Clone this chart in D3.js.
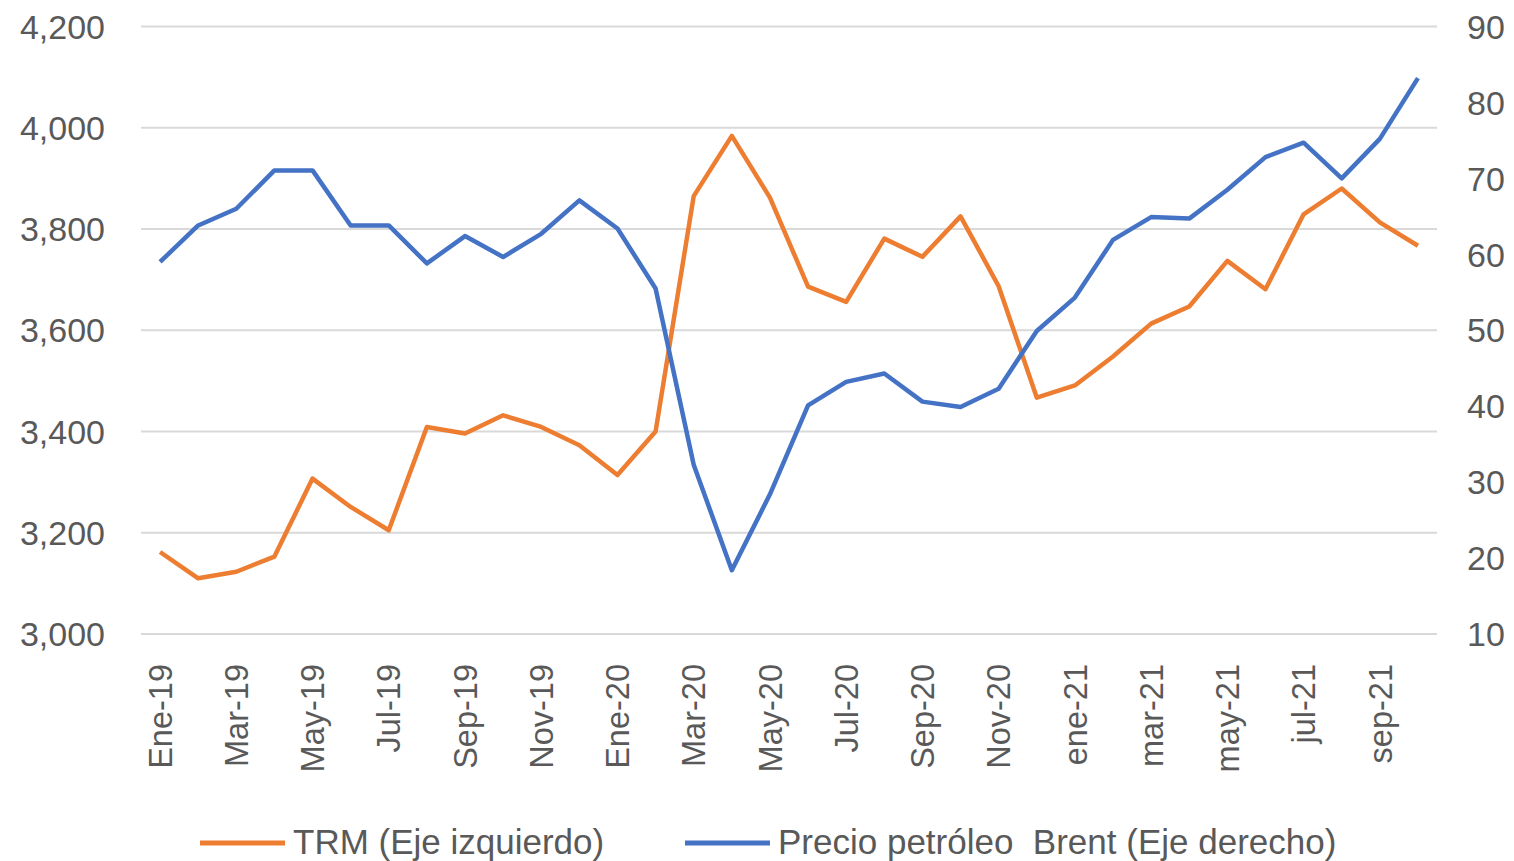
<!DOCTYPE html>
<html>
<head>
<meta charset="utf-8">
<script src="https://cdn.jsdelivr.net/npm/d3@7"></script>
<style>
  html, body { margin: 0; padding: 0; background: #fff; }
  svg { display: block; }
  text { font-family: "Liberation Sans", Arial, sans-serif; fill: #595959; }
</style>
</head>
<body>
<svg id="chart" width="1514" height="861"></svg>
<script>
const months = ["Ene-19","Feb-19","Mar-19","Abr-19","May-19","Jun-19","Jul-19","Ago-19","Sep-19","Oct-19","Nov-19","Dic-19",
  "Ene-20","Feb-20","Mar-20","Abr-20","May-20","Jun-20","Jul-20","Ago-20","Sep-20","Oct-20","Nov-20","Dic-20",
  "ene-21","feb-21","mar-21","abr-21","may-21","jun-21","jul-21","ago-21","sep-21","oct-21"];
const shownLabels = ["Ene-19","Mar-19","May-19","Jul-19","Sep-19","Nov-19","Ene-20","Mar-20","May-20","Jul-20","Sep-20","Nov-20","ene-21","mar-21","may-21","jul-21","sep-21"];
const trm = [3162,3110,3123,3153,3307,3251,3205,3409,3396,3432,3409,3373,
  3314,3400,3865,3984,3862,3686,3656,3781,3745,3825,3687,3467,
  3491,3548,3613,3647,3737,3681,3829,3880,3813,3767];
const brent = [59.0,63.8,66.0,71.05,71.05,63.8,63.8,58.8,62.4,59.65,62.7,67.1,
  63.4,55.5,32.3,18.4,28.4,40.1,43.2,44.3,40.6,39.9,42.3,49.9,
  54.3,61.9,64.9,64.7,68.5,72.8,74.7,70.0,75.2,83.2];
const leftTicks = [3000,3200,3400,3600,3800,4000,4200];
const rightTicks = [10,20,30,40,50,60,70,80,90];
const seriesNames = ["TRM (Eje izquierdo)", "Precio petróleo  Brent (Eje derecho)"];
const colors = ["#ED7D31", "#4472C4"];

const svg = d3.select("#chart");
const plotLeft = 141, plotRight = 1437, plotTop = 26.5, plotBottom = 634;

const x = d3.scalePoint().domain(months).range([plotLeft, plotRight]).padding(0.5);
const yL = d3.scaleLinear().domain([3000, 4200]).range([plotBottom, plotTop]);
const yR = d3.scaleLinear().domain([10, 90]).range([plotBottom, plotTop]);

// gridlines
svg.append("g").selectAll("line").data(leftTicks).join("line")
  .attr("x1", plotLeft).attr("x2", plotRight)
  .attr("y1", d => yL(d)).attr("y2", d => yL(d))
  .attr("stroke", "#d9d9d9").attr("stroke-width", 2);

// left axis labels
const fmt = d3.format(",");
svg.append("g").selectAll("text").data(leftTicks).join("text")
  .attr("x", 105).attr("y", d => yL(d)).attr("dy", "0.36em")
  .attr("text-anchor", "end").style("font-size", "34px")
  .text(d => fmt(d));

// right axis labels
svg.append("g").selectAll("text").data(rightTicks).join("text")
  .attr("x", 1467).attr("y", d => yR(d)).attr("dy", "0.36em")
  .attr("text-anchor", "start").style("font-size", "34px")
  .text(d => d);

// x labels
svg.append("g").selectAll("text").data(shownLabels).join("text")
  .attr("transform", d => `translate(${x(d)},664) rotate(-90)`)
  .attr("dy", "0.36em")
  .attr("text-anchor", "end").style("font-size", "32.5px")
  .text(d => d);

// lines
const lineL = d3.line().x((d, i) => x(months[i])).y(d => yL(d));
const lineR = d3.line().x((d, i) => x(months[i])).y(d => yR(d));
svg.append("path").datum(trm).attr("d", lineL)
  .attr("fill", "none").attr("stroke", colors[0]).attr("stroke-width", 4.5)
  .attr("stroke-linejoin", "round");
svg.append("path").datum(brent).attr("d", lineR)
  .attr("fill", "none").attr("stroke", colors[1]).attr("stroke-width", 4.5)
  .attr("stroke-linejoin", "round");

// legend
const legendX = [200, 685];
const lg = svg.append("g");
seriesNames.forEach((name, i) => {
  lg.append("line").attr("x1", legendX[i]).attr("x2", legendX[i] + 85)
    .attr("y1", 843).attr("y2", 843)
    .attr("stroke", colors[i]).attr("stroke-width", 5);
  lg.append("text").attr("x", legendX[i] + 93).attr("y", 854)
    .style("font-size", "35px").style("white-space", "pre")
    .attr("xml:space", "preserve")
    .text(name);
});
</script>
</body>
</html>
